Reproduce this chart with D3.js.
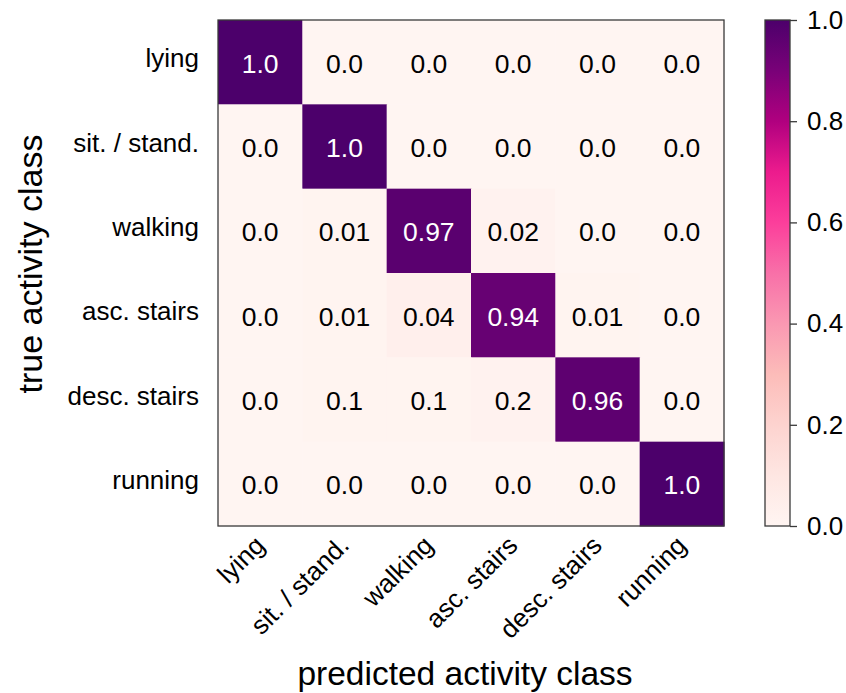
<!DOCTYPE html>
<html>
<head>
<meta charset="utf-8">
<script src="https://cdn.jsdelivr.net/npm/d3@7"></script>
<style>
  html, body { margin: 0; padding: 0; background: #fff; }
  svg { display: block; font-family: "Liberation Sans", Arial, Helvetica, sans-serif; }
</style>
</head>
<body>
<svg id="chart" width="846" height="693"></svg>
<script>
// ---- data ----
const trueClasses = ["lying", "sit. / stand.", "walking", "asc. stairs", "desc. stairs", "running"];
const predClasses = ["lying", "sit. / stand.", "walking", "asc. stairs", "desc. stairs", "running"];
const values = [
  [1.00, 0.00, 0.00, 0.00, 0.00, 0.00],
  [0.00, 1.00, 0.00, 0.00, 0.00, 0.00],
  [0.00, 0.01, 0.97, 0.02, 0.00, 0.00],
  [0.00, 0.01, 0.04, 0.94, 0.01, 0.00],
  [0.00, 0.01, 0.01, 0.02, 0.96, 0.00],
  [0.00, 0.00, 0.00, 0.00, 0.00, 1.00]
];
const cellLabels = [
  ["1.0", "0.0", "0.0", "0.0", "0.0", "0.0"],
  ["0.0", "1.0", "0.0", "0.0", "0.0", "0.0"],
  ["0.0", "0.01", "0.97", "0.02", "0.0", "0.0"],
  ["0.0", "0.01", "0.04", "0.94", "0.01", "0.0"],
  ["0.0", "0.1", "0.1", "0.2", "0.96", "0.0"],
  ["0.0", "0.0", "0.0", "0.0", "0.0", "1.0"]
];
const colorbarTicks = [0.0, 0.2, 0.4, 0.6, 0.8, 1.0];
const colorStops = [0.0, 0.1, 0.2, 0.3, 0.4, 0.5, 0.6, 0.7, 0.8, 0.9, 1.0];
const colorRamp = ["#fff5f2", "#fee6e2", "#fdd3cf", "#fcbcb9", "#fa98b2", "#f870a8", "#fc3e9b", "#ec1b8d", "#b0007f", "#790178", "#4c006b"];

// ---- layout ----
const svg = d3.select("#chart");
const plot = { x: 218, y: 20, w: 506, h: 506 };
const cb = { x: 765, y: 20, w: 25, h: 506 };
const FONT = "'Liberation Sans', Arial, Helvetica, sans-serif";

const x = d3.scaleBand().domain(predClasses).range([plot.x, plot.x + plot.w]);
const y = d3.scaleBand().domain(trueClasses).range([plot.y, plot.y + plot.h]);
const color = d3.scaleLinear().domain(colorStops).range(colorRamp).interpolate(d3.interpolateRgb);

const cells = [];
values.forEach((row, i) => row.forEach((v, j) => cells.push({ r: trueClasses[i], c: predClasses[j], v, label: cellLabels[i][j] })));

svg.append("g").selectAll("rect").data(cells).join("rect")
  .attr("x", d => x(d.c))
  .attr("y", d => y(d.r))
  .attr("width", x.bandwidth() + 0.5)
  .attr("height", y.bandwidth() + 0.5)
  .attr("fill", d => color(d.v));

svg.append("g").selectAll("text").data(cells).join("text")
  .attr("x", d => x(d.c) + x.bandwidth() / 2)
  .attr("y", d => y(d.r) + y.bandwidth() / 2)
  .attr("dy", "0.4em")
  .attr("text-anchor", "middle")
  .attr("font-size", 26.5)
  .attr("fill", d => d.v > 0.5 ? "#ffffff" : "#000000")
  .text(d => d.label);

svg.append("rect")
  .attr("x", plot.x).attr("y", plot.y).attr("width", plot.w).attr("height", plot.h)
  .attr("fill", "none").attr("stroke", "#3a3a3a").attr("stroke-width", 1.3);

// y tick labels
svg.append("g").selectAll("text").data(trueClasses).join("text")
  .attr("x", 199)
  .attr("y", d => y(d) + y.bandwidth() / 2)
  .attr("dy", "0.2em")
  .attr("text-anchor", "end")
  .attr("font-size", 26)
  .attr("fill", "#000")
  .text(d => d);

// x tick labels (rotated)
svg.append("g").selectAll("text").data(predClasses).join("text")
  .attr("transform", d => `translate(${x(d) + x.bandwidth() / 2 + 6},${547}) rotate(-45)`)
  .attr("text-anchor", "end")
  .attr("font-size", 26)
  .attr("fill", "#000")
  .text(d => d);

// axis titles
svg.append("text")
  .attr("x", (297 + 633) / 2).attr("y", 685)
  .attr("text-anchor", "middle").attr("font-size", 33.5).attr("fill", "#000")
  .text("predicted activity class");

svg.append("text")
  .attr("transform", `translate(42,${264}) rotate(-90)`)
  .attr("text-anchor", "middle").attr("font-size", 34).attr("fill", "#000")
  .text("true activity class");

// colorbar
const defs = svg.append("defs");
const grad = defs.append("linearGradient").attr("id", "cbgrad")
  .attr("x1", "0").attr("y1", "1").attr("x2", "0").attr("y2", "0");
colorStops.forEach((s, i) => grad.append("stop").attr("offset", s).attr("stop-color", colorRamp[i]));

svg.append("rect")
  .attr("x", cb.x).attr("y", cb.y).attr("width", cb.w).attr("height", cb.h)
  .attr("fill", "url(#cbgrad)")
  .attr("stroke", "#3a3a3a").attr("stroke-width", 1.3);

const cy = d3.scaleLinear().domain([0, 1]).range([cb.y + cb.h, cb.y]);
const cbAxis = d3.axisRight(cy).tickValues(colorbarTicks).tickFormat(d3.format(".1f")).tickSize(7).tickPadding(10);
const cbg = svg.append("g").attr("transform", `translate(${cb.x + cb.w},0)`).call(cbAxis);
cbg.select(".domain").remove();
cbg.selectAll(".tick line").attr("stroke", "#3a3a3a").attr("stroke-width", 1.3);
cbg.selectAll(".tick text").attr("font-size", 26).attr("fill", "#000").attr("font-family", FONT);
</script>
</body>
</html>
